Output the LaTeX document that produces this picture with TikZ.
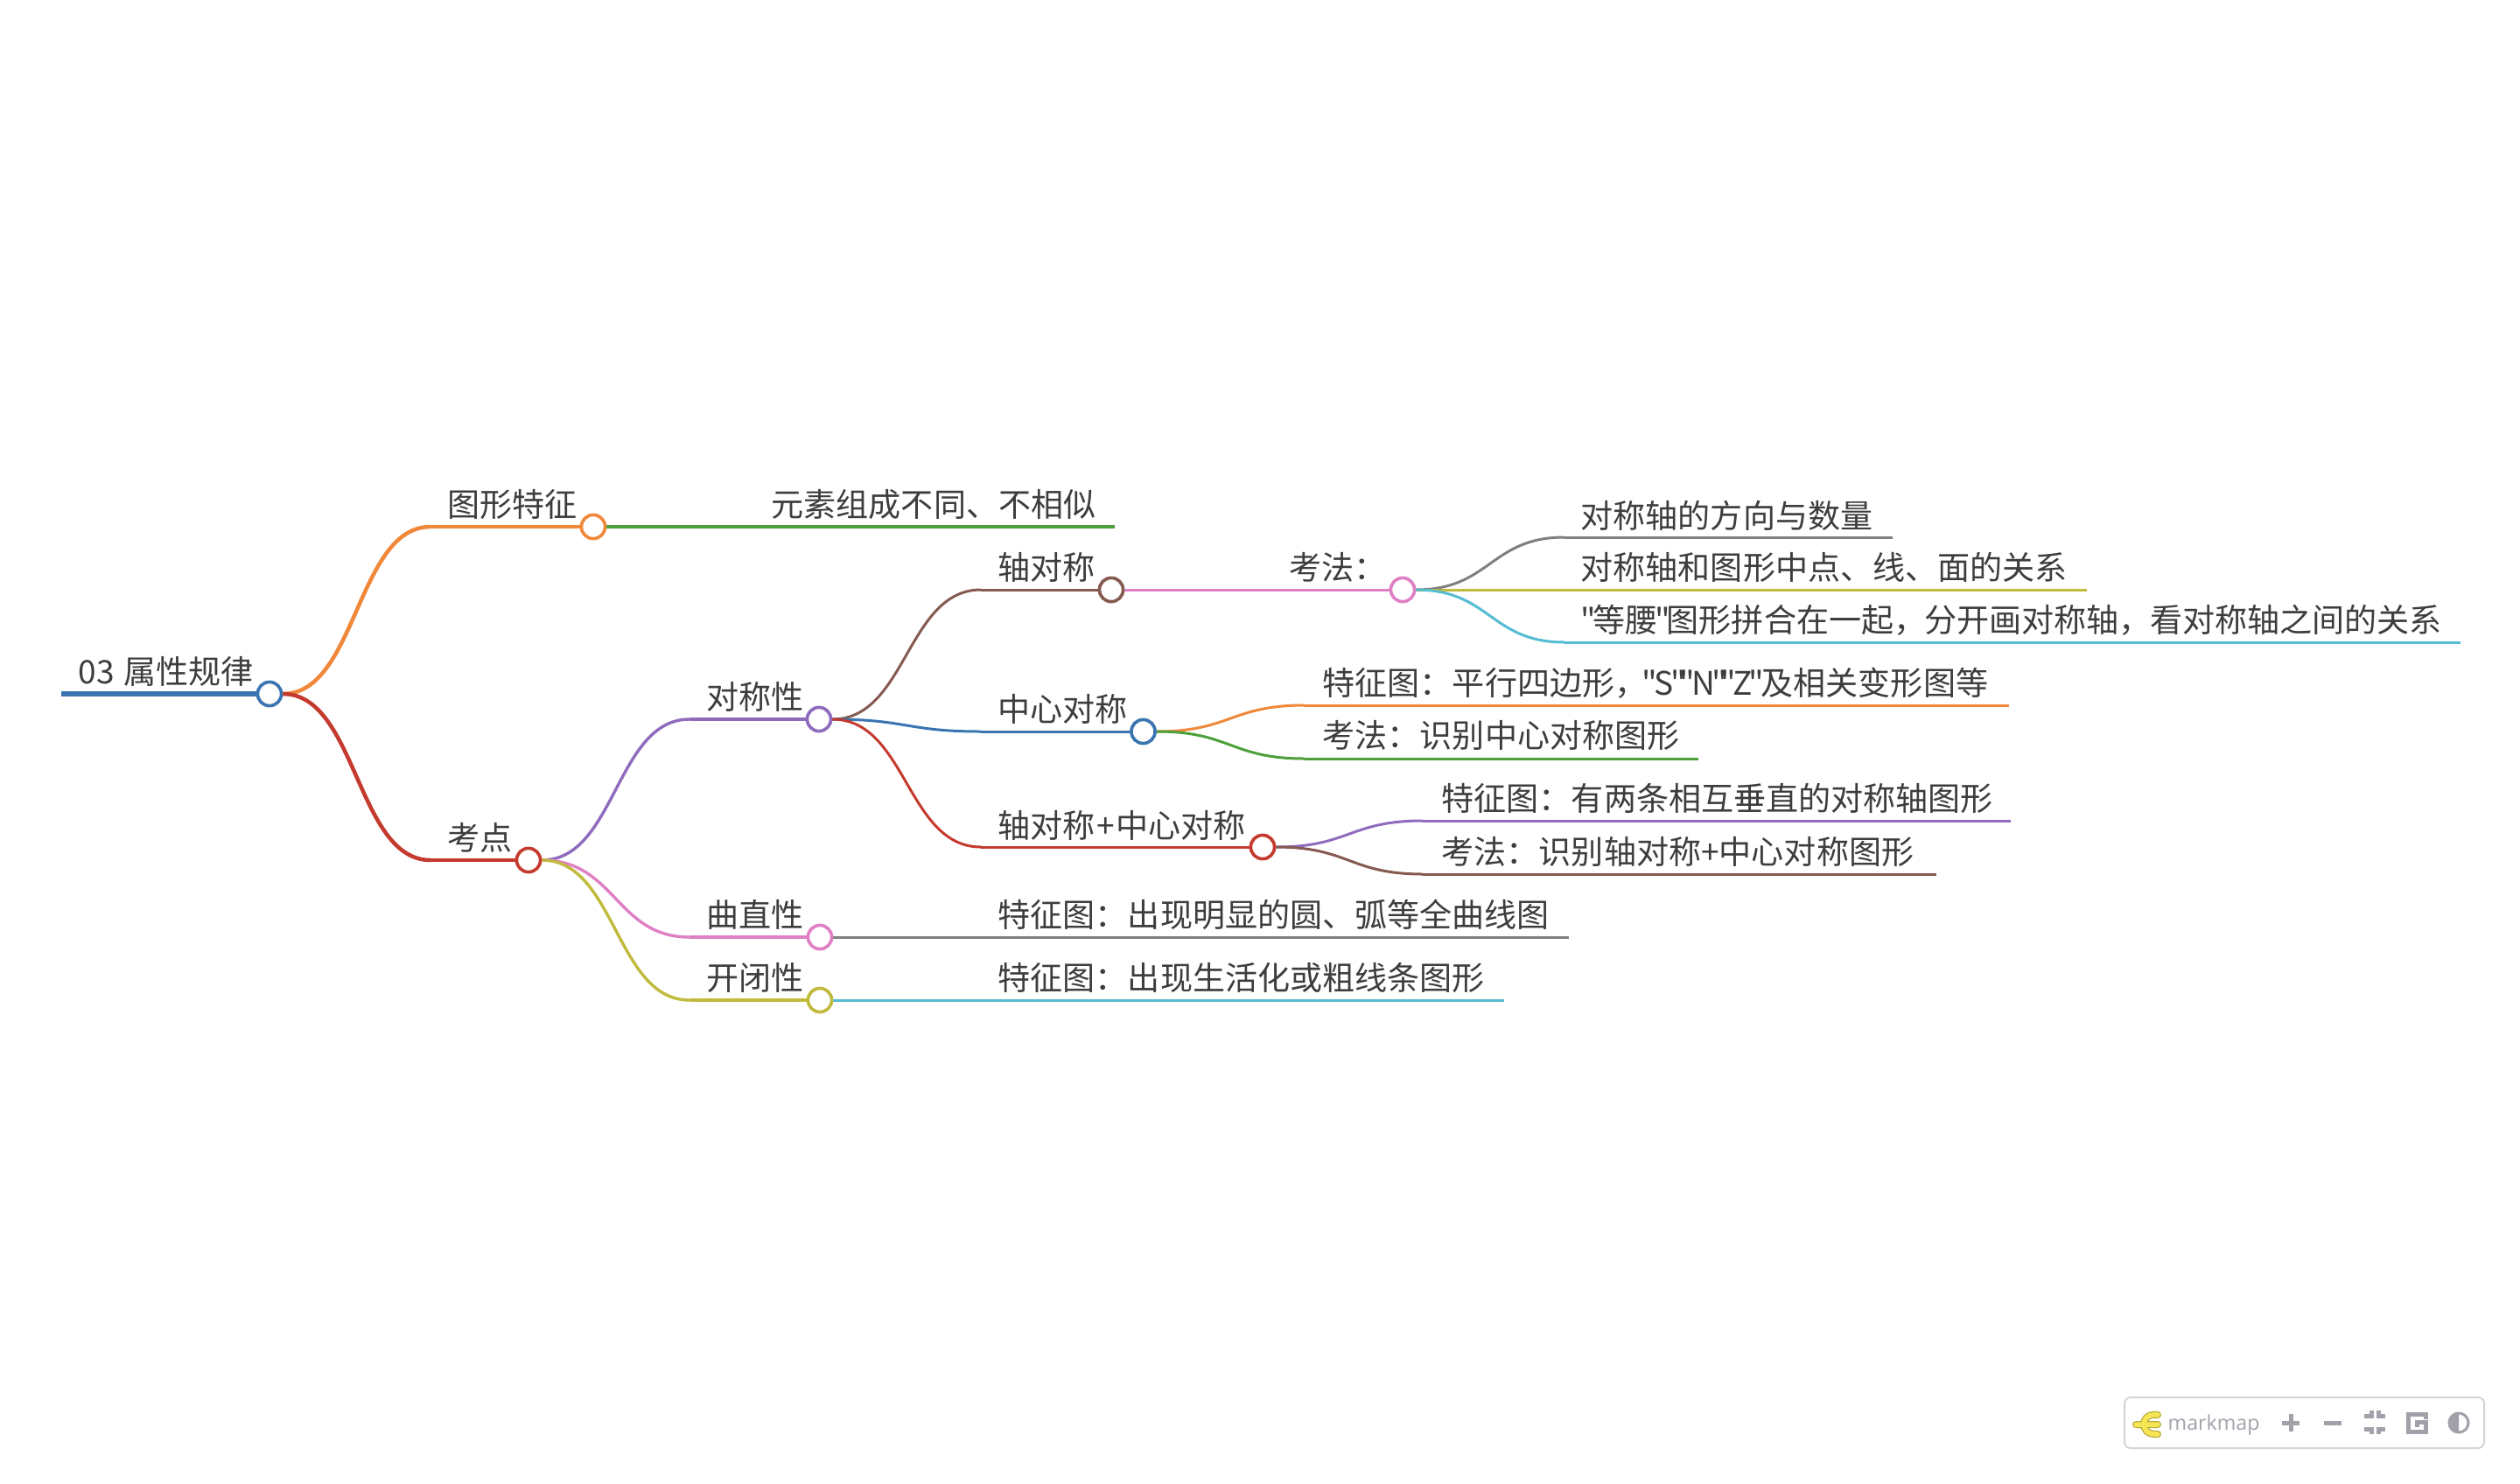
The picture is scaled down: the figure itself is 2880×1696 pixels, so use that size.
\documentclass[tikz,border=0pt]{standalone}
\usepackage{fontspec}
\newfontfamily\topicfont{Noto Sans CJK SC}
\newfontfamily\barfont{Open Sans}
\usetikzlibrary{calc}
\tikzset{
  topic/.style={anchor=west, inner sep=0pt, text=black!76,
    font=\topicfont\fontsize{10.54pt}{12pt}\selectfont, text height=9pt, text depth=1.5pt},
  knot/.style={circle, draw=#1, fill=white, line width=0.035cm,
    minimum size=0.27cm, inner sep=0pt},
  link/.style n args={2}{draw=#1, line width=#2 cm, line cap=butt},
  barline/.style={draw=barcol, line width=0.05cm},
}
% curve that leaves and enters level, with both handles at half way
\newcommand{\branch}[4]{%
  \draw[link={#1}{#2}] let \p1=(#3), \p2=(#4), \n1={0.5*\x1+0.5*\x2} in
    (\p1) .. controls (\n1,\y1) and (\n1,\y2) .. (\p2);
}
% narrow straight quote and comma
\newcommand{\nq}{\kern-0.1em"\kern-0.1em}
\newcommand{\nc}{，\kern-0.05em}
\begin{document}
\begin{tikzpicture}[x=0.01cm, y=-0.01cm]
% Defining colors
\definecolor{colroot}{HTML}{3A75B0}
\definecolor{colorange}{HTML}{F0883A}
\definecolor{colgreen}{HTML}{4EA03C}
\definecolor{colred}{HTML}{C53A2E}
\definecolor{colpurple}{HTML}{8F6BBD}
\definecolor{colbrown}{HTML}{855A50}
\definecolor{colpink}{HTML}{DF80C5}
\definecolor{colgray}{HTML}{7F7F7F}
\definecolor{cololive}{HTML}{C0BB3E}
\definecolor{colcyan}{HTML}{55BCD2}
\definecolor{barcol}{HTML}{A1A1AA}
\definecolor{barframe}{HTML}{D4D4D8}
\definecolor{logoedge}{HTML}{B5A93A}
\definecolor{logofill}{HTML}{F7E654}

\useasboundingbox (0,0) rectangle (2880,1696);

% =:=:=:=:=:=:=:=:=:=:=:=:=:=:=:=:=:=:=
% Start and end points of the lines
% =:=:=:=:=:=:=:=:=:=:=:=:=:=:=:=:=:=:=
\coordinate (sRoot) at (70,793);
\coordinate (sShape) at (492,602);
\coordinate (sExam) at (492,983);
\coordinate (sSym) at (788,822);
\coordinate (sBend) at (788,1071);
\coordinate (sOpen) at (788,1143);
\coordinate (sAxis) at (1121,674);
\coordinate (sCentre) at (1121,836);
\coordinate (sBoth) at (1121,968);
\coordinate (sHow) at (1454,674);
\coordinate (sElem) at (862,602);      \coordinate (eElem) at (1274,602);
\coordinate (sDir) at (1788,614);      \coordinate (eDir) at (2163,614);
\coordinate (sMid) at (1788,674);      \coordinate (eMid) at (2385,674);
\coordinate (sIso) at (1788,734);      \coordinate (eIso) at (2812,734);
\coordinate (sPara) at (1491,806);     \coordinate (ePara) at (2296,806);
\coordinate (sFind) at (1491,867);     \coordinate (eFind) at (1941,867);
\coordinate (sTwo) at (1626,938);      \coordinate (eTwo) at (2298,938);
\coordinate (sBothF) at (1626,999);    \coordinate (eBothF) at (2213,999);
\coordinate (sBendF) at (1121,1071);   \coordinate (eBendF) at (1793,1071);
\coordinate (sOpenF) at (1121,1143);   \coordinate (eOpenF) at (1719,1143);

% =:=:=:=:=:=:=:=:=:=:=:=:=:=:=:=:=:=:=
% Knots, they are drawn again on top at the end
% =:=:=:=:=:=:=:=:=:=:=:=:=:=:=:=:=:=:=
\node[knot=colroot] (kRoot) at (308,793) {};
\node[knot=colorange] (kShape) at (678,602) {};
\node[knot=colred] (kExam) at (604,983) {};
\node[knot=colpurple] (kSym) at (936,822) {};
\node[knot=colpink] (kBend) at (937,1071) {};
\node[knot=cololive] (kOpen) at (937,1143) {};
\node[knot=colbrown] (kAxis) at (1270,674) {};
\node[knot=colroot] (kCentre) at (1306.5,836) {};
\node[knot=colred] (kBoth) at (1443,968) {};
\node[knot=colpink] (kHow) at (1603,674) {};

% =:=:=:=:=:=:=:=:=:=:=:=:=:=:=:=:=:=:=
% Root and first level
% =:=:=:=:=:=:=:=:=:=:=:=:=:=:=:=:=:=:=
\draw[link={colroot}{0.06}] (sRoot) -- (kRoot);
\branch{colorange}{0.045}{kRoot.east}{sShape}
\draw[link={colorange}{0.045}] (sShape) -- (kShape);
\branch{colred}{0.045}{kRoot.east}{sExam}
\draw[link={colred}{0.045}] (sExam) -- (kExam);
\draw[link={colgreen}{0.034}] (kShape) -- (sElem) -- (eElem);

% =:=:=:=:=:=:=:=:=:=:=:=:=:=:=:=:=:=:=
% Second level
% =:=:=:=:=:=:=:=:=:=:=:=:=:=:=:=:=:=:=
\branch{colpurple}{0.034}{kExam.east}{sSym}
\draw[link={colpurple}{0.034}] (sSym) -- (kSym);
\branch{colpink}{0.034}{kExam.east}{sBend}
\draw[link={colpink}{0.034}] (sBend) -- (kBend);
\branch{cololive}{0.034}{kExam.east}{sOpen}
\draw[link={cololive}{0.034}] (sOpen) -- (kOpen);
\draw[link={colgray}{0.03}] (kBend) -- (sBendF) -- (eBendF);
\draw[link={colcyan}{0.03}] (kOpen) -- (sOpenF) -- (eOpenF);

% =:=:=:=:=:=:=:=:=:=:=:=:=:=:=:=:=:=:=
% Third level
% =:=:=:=:=:=:=:=:=:=:=:=:=:=:=:=:=:=:=
\branch{colbrown}{0.03}{kSym.east}{sAxis}
\draw[link={colbrown}{0.03}] (sAxis) -- (kAxis);
\branch{colroot}{0.03}{kSym.east}{sCentre}
\draw[link={colroot}{0.03}] (sCentre) -- (kCentre);
\branch{colred}{0.03}{kSym.east}{sBoth}
\draw[link={colred}{0.03}] (sBoth) -- (kBoth);
\draw[link={colpink}{0.03}] (kAxis) -- (sHow) -- (kHow);

% =:=:=:=:=:=:=:=:=:=:=:=:=:=:=:=:=:=:=
% Leaves
% =:=:=:=:=:=:=:=:=:=:=:=:=:=:=:=:=:=:=
\branch{colgray}{0.03}{kHow.east}{sDir}
\draw[link={colgray}{0.03}] (sDir) -- (eDir);
\draw[link={cololive}{0.03}] (kHow) -- (sMid) -- (eMid);
\branch{colcyan}{0.03}{kHow.east}{sIso}
\draw[link={colcyan}{0.03}] (sIso) -- (eIso);
\branch{colorange}{0.03}{kCentre.east}{sPara}
\draw[link={colorange}{0.03}] (sPara) -- (ePara);
\branch{colgreen}{0.03}{kCentre.east}{sFind}
\draw[link={colgreen}{0.03}] (sFind) -- (eFind);
\branch{colpurple}{0.03}{kBoth.east}{sTwo}
\draw[link={colpurple}{0.03}] (sTwo) -- (eTwo);
\branch{colbrown}{0.03}{kBoth.east}{sBothF}
\draw[link={colbrown}{0.03}] (sBothF) -- (eBothF);

% =:=:=:=:=:=:=:=:=:=:=:=:=:=:=:=:=:=:=
% White knots over the line ends
% =:=:=:=:=:=:=:=:=:=:=:=:=:=:=:=:=:=:=
\foreach \kname/\kcol in {kRoot/colroot, kShape/colorange, kExam/colred,
    kSym/colpurple, kBend/colpink, kOpen/cololive, kAxis/colbrown,
    kCentre/colroot, kBoth/colred, kHow/colpink}
  \path (\kname.center) node[knot=\kcol] {};

% =:=:=:=:=:=:=:=:=:=:=:=:=:=:=:=:=:=:=
% Texts
% =:=:=:=:=:=:=:=:=:=:=:=:=:=:=:=:=:=:=
\node[topic] (tRoot) at (89,768) {03\hspace{0.05em} 属性规律};
\node[topic] (tShape) at (511,577) {图形特征};
\node[topic] (tExam) at (511,958) {考点};
\node[topic] (tElem) at (881,577) {元素组成不同、不相似};
\node[topic] (tSym) at (807,797) {对称性};
\node[topic] (tBend) at (807,1046) {曲直性};
\node[topic] (tOpen) at (807,1118) {开闭性};
\node[topic] (tAxis) at (1140,649) {轴对称};
\node[topic] (tCentre) at (1140,811) {中心对称};
\node[topic] (tBoth) at (1140,944) {轴对称\kern.04em+\kern.04em中心对称};
\node[topic] (tBendF) at (1140,1046) {特征图：出现明显的圆、弧等全曲线图};
\node[topic] (tOpenF) at (1140,1118) {特征图：出现生活化或粗线条图形};
\node[topic] (tHow) at (1473,649) {考法：};
\node[topic] (tDir) at (1806,590) {对称轴的方向与数量};
\node[topic] (tMid) at (1806,649) {对称轴和图形中点、线、面的关系};
\node[topic] (tIso) at (1806,709) {"\kern-0.1em 等腰\nq 图形拼合在一起\nc 分开画对称轴\nc 看对称轴之间的关系};
\node[topic] (tPara) at (1511,781) {特征图：平行四边形\nc\nq S\nq\nq N\nq\nq Z\nq 及相关变形图等};
\node[topic] (tFind) at (1511,841) {考法：识别中心对称图形};
\node[topic] (tTwo) at (1647,913) {特征图：有两条相互垂直的对称轴图形};
\node[topic] (tBothF) at (1647,974) {考法：识别轴对称+中心对称图形};

% =:=:=:=:=:=:=:=:=:=:=:=:=:=:=:=:=:=:=
% Toolbar in the corner
% =:=:=:=:=:=:=:=:=:=:=:=:=:=:=:=:=:=:=
\draw[draw=barframe, line width=0.02cm, rounded corners=0.07cm]
    (2428,1597) rectangle (2839,1655);
% logo
\draw[draw=logoedge, line width=0.08cm, line cap=round]
    (2441,1628) -- (2466,1628)
    (2466,1617) .. controls (2452,1615) and (2450,1625) .. (2450,1628)
    .. controls (2450,1631) and (2452,1640) .. (2466,1639);
\draw[draw=logofill, line width=0.055cm, line cap=round]
    (2441,1628) -- (2466,1628)
    (2466,1617) .. controls (2452,1615) and (2450,1625) .. (2450,1628)
    .. controls (2450,1631) and (2452,1640) .. (2466,1639);
\node[anchor=west, inner sep=0pt, text=barcol, font=\barfont\fontsize{6.6pt}{9pt}\selectfont]
    (tBar) at (2477,1628) {markmap};
% buttons
\draw[barline] (2608,1626) -- (2628,1626) (2618,1616) -- (2618,1636);
\draw[barline] (2656,1626) -- (2676,1626);
\draw[barline] (2702,1618) -- (2710,1618) -- (2710,1612)
    (2726,1618) -- (2718,1618) -- (2718,1612)
    (2702,1633) -- (2710,1633) -- (2710,1639)
    (2726,1633) -- (2718,1633) -- (2718,1639);
\draw[barline] (2772,1622) -- (2772,1616) -- (2752,1616) -- (2752,1636)
    -- (2772,1636) -- (2772,1625) -- (2762,1625) -- (2762,1631);
\draw[draw=barcol, line width=0.03cm, fill=white] (2810,1626) circle (11);
\fill[barcol] (2810,1615) arc[start angle=90, end angle=270, radius=0.11cm] -- cycle;
\end{tikzpicture}
\end{document}
